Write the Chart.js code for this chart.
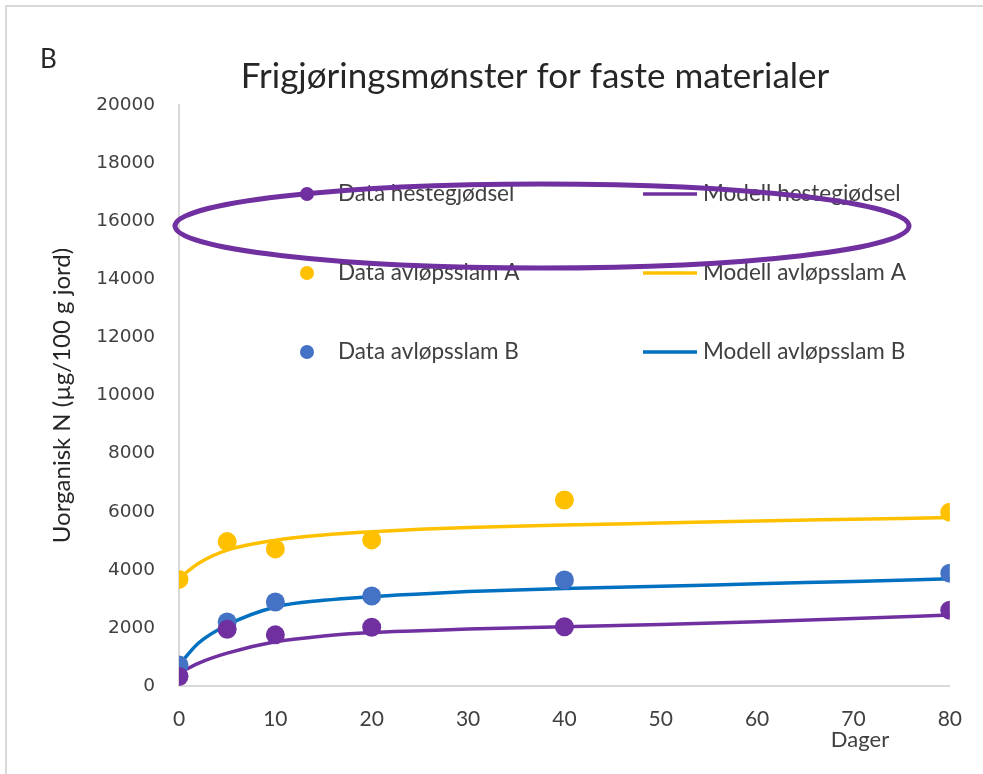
<!DOCTYPE html>
<html>
<head>
<meta charset="utf-8">
<title>Frigjøringsmønster for faste materialer</title>
<script src="https://cdn.jsdelivr.net/npm/chart.js@4.4.1/dist/chart.umd.min.js"></script>
<style>
  html, body { margin: 0; padding: 0; background: #ffffff; }
  #wrap { width: 983px; height: 774px; }
</style>
</head>
<body>
<div id="wrap"><canvas id="frigjoringChart" width="983" height="774"></canvas></div>
<script>
// Målte verdier (dager etter start)
const dataDays = [0, 5, 10, 20, 40, 80];
const hestegjodselData = [330, 1950, 1760, 2020, 2040, 2610];
const slamAData = [3670, 4970, 4720, 5030, 6400, 5980];
const slamBData = [720, 2200, 2890, 3100, 3650, 3880];

// Modellkurver
const modelDays = [0, 2, 5, 10, 15, 20, 25, 30, 40, 50, 60, 70, 80];
const hestegjodselModell = [440, 780, 1130, 1520, 1720, 1840, 1900, 1960, 2040, 2120, 2210, 2320, 2440];
const slamAModell = [3700, 4220, 4680, 5020, 5200, 5310, 5400, 5460, 5540, 5610, 5680, 5740, 5800];
const slamBModell = [720, 1470, 2100, 2720, 2950, 3080, 3170, 3250, 3360, 3430, 3520, 3600, 3690];

// Akser
const xTicks = [0, 10, 20, 30, 40, 50, 60, 70, 80];
const yTicks = [0, 2000, 4000, 6000, 8000, 10000, 12000, 14000, 16000, 18000, 20000];

const PURPLE = '#7030A0';
const YELLOW = '#FFC000';
const BLUE_DOT = '#4472C4';
const BLUE_LINE = '#0070C0';
const TEXT = '#404040';

function toPoints(xs, ys) {
    return xs.map((x, i) => ({ x: x, y: ys[i] }));
}

function dataSet(label, ys, color) {
    return {
        type: 'scatter',
        label: label,
        data: toPoints(dataDays, ys),
        backgroundColor: color,
        borderColor: color,
        pointRadius: 9.5,
        pointHoverRadius: 9.5,
        borderWidth: 0,
        order: 0
    };
}

function modelSet(label, ys, color) {
    return {
        type: 'line',
        label: label,
        data: toPoints(modelDays, ys),
        borderColor: color,
        backgroundColor: color,
        borderWidth: 3.5,
        pointRadius: 0,
        cubicInterpolationMode: 'monotone',
        fill: false,
        order: 1
    };
}

// Tekst, tegnforklaring og markering rundt første rad
const decorations = {
    id: 'decorations',
    afterDraw(chart) {
        const ctx = chart.ctx;
        const ds = chart.data.datasets;
        ctx.save();

        // ramme
        ctx.strokeStyle = '#d9d9d9';
        ctx.lineWidth = 2;
        ctx.beginPath();
        ctx.moveTo(6, 774);
        ctx.lineTo(6, 6);
        ctx.lineTo(983, 6);
        ctx.stroke();

        ctx.fillStyle = '#262626';
        ctx.textBaseline = 'alphabetic';
        ctx.textAlign = 'left';
        ctx.font = '26px Lato';
        ctx.fillText('B', 40, 68);

        ctx.textAlign = 'center';
        ctx.font = '35px Lato';
        ctx.fillText('Frigjøringsmønster for faste materialer', 535, 88);

        ctx.font = '22px Lato';
        ctx.fillStyle = TEXT;
        ctx.fillText('Dager', 860, 747);

        // tegnforklaring: data til venstre, modell til høyre
        const rows = [194, 273, 352];
        ctx.font = '22.5px Lato';
        ctx.textAlign = 'left';
        ctx.textBaseline = 'middle';
        for (let r = 0; r < 3; r++) {
            const d = ds[r];
            const m = ds[r + 3];
            const y = rows[r];
            ctx.fillStyle = d.backgroundColor;
            ctx.beginPath();
            ctx.arc(307, y, 7, 0, Math.PI * 2);
            ctx.fill();
            ctx.fillStyle = TEXT;
            ctx.fillText(d.label, 338, y);

            ctx.strokeStyle = m.borderColor;
            ctx.lineWidth = 3.5;
            ctx.beginPath();
            ctx.moveTo(643, y);
            ctx.lineTo(697, y);
            ctx.stroke();
            ctx.fillStyle = TEXT;
            ctx.fillText(m.label, 703, y);
        }

        ctx.strokeStyle = PURPLE;
        ctx.lineWidth = 5;
        ctx.beginPath();
        ctx.ellipse(542, 226, 367, 42, 0, 0, Math.PI * 2);
        ctx.stroke();

        ctx.restore();
    }
};

const ctx = document.getElementById('frigjoringChart').getContext('2d');
const frigjoringChart = new Chart(ctx, {
    data: {
        datasets: [
            dataSet('Data hestegjødsel', hestegjodselData, PURPLE),
            dataSet('Data avløpsslam A', slamAData, YELLOW),
            dataSet('Data avløpsslam B', slamBData, BLUE_DOT),
            modelSet('Modell hestegjødsel', hestegjodselModell, PURPLE),
            modelSet('Modell avløpsslam A', slamAModell, YELLOW),
            modelSet('Modell avløpsslam B', slamBModell, BLUE_LINE)
        ]
    },
    options: {
        responsive: false,
        animation: false,
        devicePixelRatio: 1,
        layout: {
            padding: { left: 0, right: 32, top: 105, bottom: 0 }
        },
        plugins: {
            legend: { display: false },
            title: { display: false },
            tooltip: { enabled: false }
        },
        scales: {
            x: {
                type: 'linear',
                min: 0,
                max: 80,
                grid: { display: false, drawTicks: false },
                border: { display: true, color: '#d9d9d9', width: 2 },
                afterBuildTicks: (scale) => { scale.ticks = xTicks.map(v => ({ value: v })); },
                afterFit: (scale) => { scale.height = 88; },
                ticks: {
                    color: TEXT,
                    padding: 21,
                    maxRotation: 0,
                    font: { family: 'Lato', size: 21 }
                }
            },
            y: {
                type: 'linear',
                min: 0,
                max: 20000,
                grid: { display: false, drawTicks: false },
                border: { display: true, color: '#d9d9d9', width: 2 },
                afterBuildTicks: (scale) => { scale.ticks = yTicks.map(v => ({ value: v })); },
                afterFit: (scale) => { scale.width = 179; },
                ticks: {
                    color: TEXT,
                    padding: 24,
                    font: { family: 'DejaVu Sans', size: 18.5 },
                    callback: (v) => String(v)
                },
                title: {
                    display: true,
                    text: 'Uorganisk N (µg/100 g jord)',
                    color: '#262626',
                    padding: { top: 48, bottom: 0 },
                    font: { family: 'Lato', size: 24 }
                }
            }
        }
    },
    plugins: [decorations]
});
</script>
</body>
</html>
